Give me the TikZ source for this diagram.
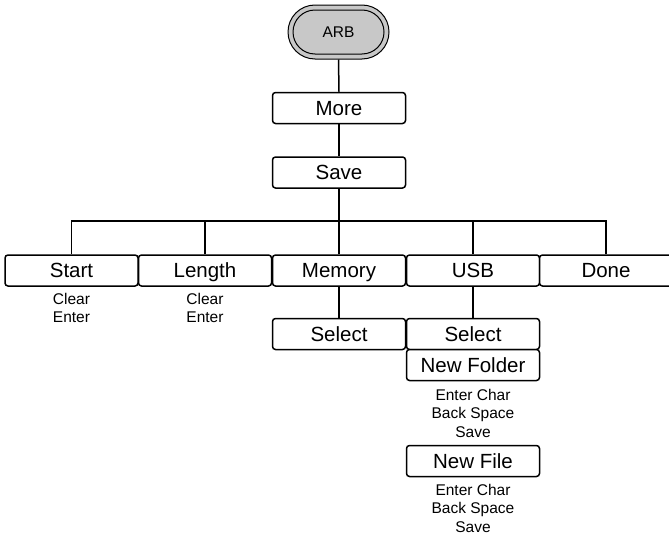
\documentclass[tikz,border=0pt]{standalone}
\usepackage{fontspec}
\setmainfont{Liberation Sans}
\begin{document}
\begin{tikzpicture}[x=1pt,y=-1pt,
  menubox/.style={draw=black,line width=1.5pt,rounded corners=3pt,minimum width=133pt,minimum height=31pt,inner sep=0pt,text height=14.7pt,text depth=0pt,font=\fontsize{20.5}{22}\selectfont,fill=white},
  sub/.style={align=center,font=\fontsize{15.5}{18.5}\selectfont,inner sep=0pt},
  link/.style={line width=1.5pt}]
\useasboundingbox (0,0) rectangle (669,538);
\clip (0,0) rectangle (669,538);
% ARB terminal
\node[draw=black,line width=1pt,fill={rgb,255:red,200;green,200;blue,200},rounded corners=27pt,minimum width=101pt,minimum height=54pt,inner sep=0pt] (arbo) at (338.5,32) {};
\node[draw=black,line width=1pt,rounded corners=22pt,minimum width=91pt,minimum height=44pt,inner sep=0pt,text height=11pt,text depth=0pt,font=\fontsize{15.5}{18}\selectfont] (arb) at (338.5,32) {ARB};
\node[menubox] (more) at (339,108) {More};
\node[menubox] (save) at (339,172.5) {Save};
\draw[link] (arbo.south) -- (more.north);
\draw[link] (more.south) -- (save.north);
% bottom row
\node[menubox] (start) at (71.5,270.5) {Start};
\node[menubox] (length) at (205,270.5) {Length};
\node[menubox] (memory) at (339,270.5) {Memory};
\node[menubox] (usb) at (473,270.5) {USB};
\node[menubox] (done) at (606,270.5) {Done};
\coordinate (bar) at (339,221);
\draw[link] (save.south) -- (bar);
\draw[link] (start.north) |- (bar);
\draw[link] (done.north) |- (bar);
\draw[link] (length.north) -- (length.north |- bar);
\draw[link] (memory.north) -- (memory.north |- bar);
\draw[link] (usb.north) -- (usb.north |- bar);
% texts under start/length
\node[sub] (st) at (71.5,308) {Clear\\Enter};
\node[sub] (lt) at (205,308) {Clear\\Enter};
% memory / usb children
\node[menubox] (msel) at (339,334) {Select};
\node[menubox] (usel) at (473,334) {Select};
\node[menubox] (nfold) at (473,365) {New Folder};
\draw[link] (memory.south) -- (msel.north);
\draw[link] (usb.south) -- (usel.north);
\node[sub] (nft) at (473,413) {Enter Char\\Back Space\\Save};
\node[menubox] (nfile) at (473,461) {New File};
\node[sub] (nfit) at (473,508) {Enter Char\\Back Space\\Save};
\end{tikzpicture}
\end{document}
